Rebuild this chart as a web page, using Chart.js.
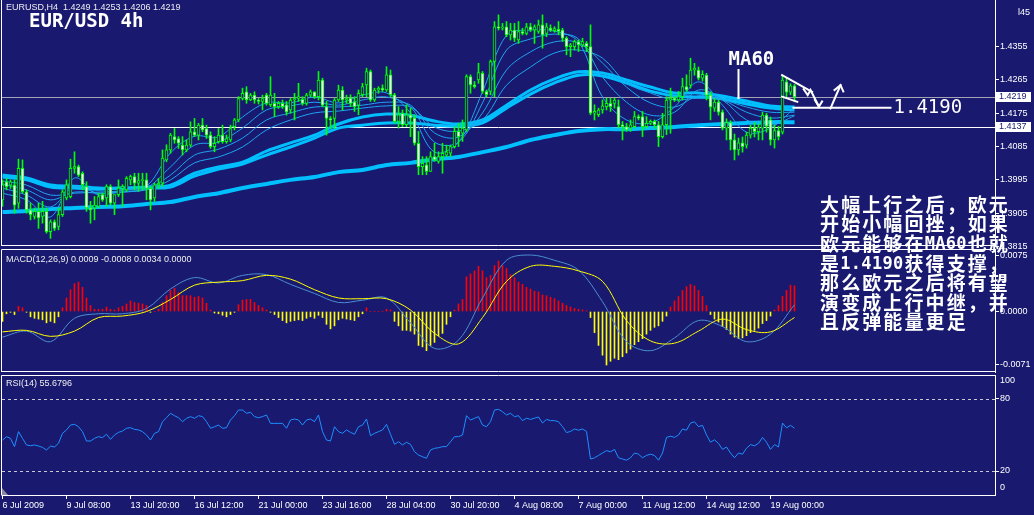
<!DOCTYPE html>
<html><head><meta charset="utf-8">
<title>EURUSD H4</title>
<script src="https://cdn.jsdelivr.net/npm/chart.js@4.4.1/dist/chart.umd.min.js"></script>
<style>
html,body{margin:0;padding:0;background:#191970;}
body{width:1034px;height:515px;position:relative;overflow:hidden;}
canvas{position:absolute;left:0;display:block;}
</style></head>
<body>
<canvas id="cMain" width="1034" height="249" style="top:0;width:1034px;height:249px"></canvas>
<canvas id="cMacd" width="1034" height="124" style="top:249px;width:1034px;height:124px"></canvas>
<canvas id="cRsi" width="1034" height="140" style="top:375px;width:1034px;height:140px"></canvas>
<canvas id="cNote" width="1034" height="515" style="top:0;width:1034px;height:515px;pointer-events:none"></canvas>
<script>
// ---------------- DATA ----------------
const openP = [
1.3941,1.3990,1.3981,1.3981,1.3932,1.4026,1.3963,1.3914,1.3896,1.3910,
1.3896,1.3910,1.3855,1.3882,1.3869,1.3901,1.3946,1.3950,1.4026,1.4031,
1.4013,1.3977,1.3919,1.3919,1.3923,1.3955,1.3946,1.3977,1.3932,1.3955,
1.3973,1.3968,1.3995,1.4004,1.3986,1.3993,1.3995,1.3972,1.3946,1.3982,
1.3986,1.4049,1.4076,1.4112,1.4107,1.4089,1.4076,1.4089,1.4125,1.4116,
1.4143,1.4134,1.4116,1.4085,1.4098,1.4116,1.4098,1.4103,1.4139,1.4157,
1.4215,1.4233,1.4211,1.4224,1.4211,1.4207,1.4224,1.4198,1.4202,1.4193,
1.4202,1.4198,1.4184,1.4211,1.4215,1.4213,1.4202,1.4224,1.4233,1.4220,
1.4265,1.4193,1.4161,1.4161,1.4211,1.4238,1.4211,1.4216,1.4206,1.4197,
1.4225,1.4252,1.4288,1.4211,1.4238,1.4243,1.4238,1.4279,1.4225,1.4153,
1.4175,1.4144,1.4171,1.4162,1.4094,1.4031,1.4036,1.4018,1.4058,1.4045,
1.4058,1.4062,1.4067,1.4085,1.4126,1.4121,1.4130,1.4274,1.4252,1.4265,
1.4283,1.4234,1.4234,1.4315,1.4409,1.4405,1.4409,1.4387,1.4400,1.4373,
1.4396,1.4391,1.4409,1.4400,1.4396,1.4414,1.4391,1.4405,1.4398,1.4402,
1.4400,1.4378,1.4355,1.4355,1.4369,1.4360,1.4364,1.4355,1.4175,1.4171,
1.4184,1.4193,1.4202,1.4202,1.4193,1.4144,1.4139,1.4135,1.4139,1.4166,
1.4166,1.4139,1.4148,1.4153,1.4144,1.4112,1.4144,1.4211,1.4216,1.4211,
1.4220,1.4247,1.4251,1.4292,1.4292,1.4270,1.4278,1.4224,1.4189,1.4205,
1.4178,1.4135,1.4150,1.4103,1.4076,1.4095,1.4089,1.4116,1.4135,1.4125,
1.4135,1.4170,1.4157,1.4103,1.4128,1.4124,1.4260,1.4232,1.4249];
const highP = [
1.3995,1.3999,1.3995,1.3995,1.4051,1.4049,1.3968,1.3932,1.3919,1.3932,
1.3937,1.3919,1.3887,1.3887,1.3919,1.3968,1.3995,1.4051,1.4071,1.4035,
1.4017,1.3990,1.3937,1.3950,1.3959,1.3959,1.3982,1.3982,1.3955,1.3995,
1.3982,1.4004,1.4008,1.4013,1.4013,1.4013,1.4013,1.3977,1.3986,1.3999,
1.4076,1.4090,1.4121,1.4134,1.4112,1.4112,1.4103,1.4152,1.4161,1.4148,
1.4161,1.4143,1.4125,1.4112,1.4134,1.4143,1.4116,1.4143,1.4161,1.4220,
1.4243,1.4247,1.4229,1.4233,1.4215,1.4224,1.4229,1.4274,1.4229,1.4207,
1.4211,1.4207,1.4215,1.4229,1.4256,1.4220,1.4229,1.4238,1.4233,1.4288,
1.4270,1.4207,1.4166,1.4215,1.4251,1.4247,1.4224,1.4225,1.4220,1.4238,
1.4256,1.4297,1.4292,1.4243,1.4247,1.4252,1.4301,1.4292,1.4229,1.4193,
1.4184,1.4198,1.4189,1.4171,1.4126,1.4058,1.4058,1.4071,1.4094,1.4071,
1.4094,1.4089,1.4089,1.4139,1.4148,1.4157,1.4279,1.4279,1.4261,1.4310,
1.4288,1.4238,1.4319,1.4423,1.4441,1.4418,1.4423,1.4418,1.4418,1.4423,
1.4405,1.4418,1.4418,1.4414,1.4427,1.4441,1.4418,1.4414,1.4409,1.4423,
1.4405,1.4382,1.4364,1.4373,1.4373,1.4378,1.4369,1.4414,1.4198,1.4189,
1.4211,1.4216,1.4216,1.4216,1.4211,1.4153,1.4148,1.4157,1.4180,1.4171,
1.4180,1.4166,1.4157,1.4157,1.4153,1.4175,1.4220,1.4243,1.4220,1.4234,
1.4270,1.4279,1.4324,1.4310,1.4300,1.4290,1.4283,1.4233,1.4215,1.4211,
1.4184,1.4160,1.4155,1.4119,1.4108,1.4111,1.4124,1.4143,1.4150,1.4146,
1.4178,1.4175,1.4165,1.4143,1.4140,1.4278,1.4270,1.4255,1.4253];
const lowP = [
1.3923,1.3968,1.3972,1.3905,1.3918,1.3959,1.3905,1.3887,1.3889,1.3864,
1.3878,1.3851,1.3837,1.3858,1.3860,1.3896,1.3941,1.3946,1.4013,1.4004,
1.3968,1.3910,1.3878,1.3887,1.3919,1.3937,1.3923,1.3927,1.3901,1.3950,
1.3923,1.3964,1.3982,1.3968,1.3964,1.3968,1.3941,1.3914,1.3937,1.3972,
1.3977,1.4044,1.4067,1.4094,1.4080,1.4062,1.4071,1.4085,1.4112,1.4103,
1.4125,1.4107,1.4080,1.4071,1.4094,1.4094,1.4094,1.4098,1.4130,1.4152,
1.4211,1.4202,1.4209,1.4202,1.4200,1.4184,1.4197,1.4193,1.4166,1.4188,
1.4188,1.4170,1.4175,1.4157,1.4207,1.4197,1.4197,1.4220,1.4215,1.4211,
1.4193,1.4116,1.4134,1.4134,1.4207,1.4184,1.4202,1.4193,1.4180,1.4171,
1.4220,1.4220,1.4207,1.4207,1.4229,1.4234,1.4234,1.4220,1.4148,1.4135,
1.4139,1.4139,1.4112,1.4089,1.4009,1.4009,1.4009,1.4018,1.4045,1.4040,
1.4013,1.4058,1.4058,1.4081,1.4085,1.4099,1.4126,1.4229,1.4243,1.4256,
1.4229,1.4220,1.4225,1.4220,1.4400,1.4400,1.4382,1.4373,1.4369,1.4364,
1.4387,1.4387,1.4396,1.4364,1.4391,1.4351,1.4382,1.4396,1.4394,1.4387,
1.4369,1.4333,1.4328,1.4346,1.4342,1.4355,1.4342,1.4171,1.4157,1.4166,
1.4175,1.4184,1.4180,1.4189,1.4135,1.4103,1.4126,1.4126,1.4135,1.4157,
1.4112,1.4135,1.4144,1.4135,1.4085,1.4108,1.4117,1.4121,1.4207,1.4207,
1.4211,1.4234,1.4243,1.4278,1.4265,1.4262,1.4211,1.4157,1.4180,1.4170,
1.4130,1.4103,1.4076,1.4049,1.4062,1.4070,1.4081,1.4108,1.4111,1.4103,
1.4103,1.4124,1.4089,1.4081,1.4103,1.4119,1.4220,1.4225,1.4206];
const closeP = [
1.3982,1.3977,1.3990,1.3927,1.4026,1.3963,1.3914,1.3901,1.3910,1.3892,
1.3910,1.3855,1.3882,1.3864,1.3901,1.3963,1.3982,1.4026,1.4031,1.4008,
1.3982,1.3919,1.3914,1.3927,1.3950,1.3941,1.3977,1.3932,1.3955,1.3973,
1.3977,1.3999,1.4004,1.3986,1.3993,1.3995,1.3972,1.3941,1.3982,1.3986,
1.4054,1.4076,1.4116,1.4103,1.4094,1.4076,1.4089,1.4125,1.4116,1.4143,
1.4130,1.4116,1.4085,1.4094,1.4116,1.4098,1.4107,1.4134,1.4157,1.4215,
1.4229,1.4211,1.4224,1.4211,1.4207,1.4215,1.4202,1.4224,1.4193,1.4202,
1.4193,1.4179,1.4211,1.4215,1.4220,1.4202,1.4224,1.4233,1.4220,1.4265,
1.4197,1.4161,1.4157,1.4211,1.4238,1.4211,1.4215,1.4202,1.4193,1.4229,
1.4247,1.4288,1.4211,1.4238,1.4243,1.4238,1.4279,1.4225,1.4153,1.4171,
1.4144,1.4171,1.4162,1.4094,1.4031,1.4040,1.4018,1.4058,1.4049,1.4058,
1.4067,1.4071,1.4085,1.4126,1.4112,1.4135,1.4274,1.4252,1.4247,1.4285,
1.4234,1.4225,1.4315,1.4409,1.4405,1.4409,1.4387,1.4400,1.4378,1.4396,
1.4391,1.4409,1.4400,1.4409,1.4414,1.4387,1.4409,1.4400,1.4404,1.4396,
1.4378,1.4355,1.4360,1.4369,1.4360,1.4369,1.4355,1.4175,1.4180,1.4184,
1.4195,1.4202,1.4193,1.4211,1.4144,1.4139,1.4130,1.4144,1.4166,1.4162,
1.4139,1.4148,1.4153,1.4144,1.4112,1.4144,1.4211,1.4216,1.4211,1.4220,
1.4247,1.4238,1.4292,1.4297,1.4270,1.4280,1.4224,1.4192,1.4205,1.4178,
1.4135,1.4150,1.4103,1.4076,1.4095,1.4085,1.4116,1.4135,1.4125,1.4138,
1.4170,1.4140,1.4103,1.4128,1.4112,1.4265,1.4232,1.4249,1.4219];

// moving averages, read every 6 bars
const maBars = [0,6,12,18,24,30,36,42,48,54,60,66,72,78,84,90,96,102,108,114,120,126,132,138,144,150,156,162,168,174,180,186,192,198];
const maFast1 = [1.3959,1.3941,1.3895,1.4000,1.3954,1.3968,1.3978,1.4068,1.4113,1.4111,1.4165,1.4203,1.4203,1.4219,1.4203,1.4224,1.4230,1.4176,1.4070,1.4097,1.4233,1.4386,1.4400,1.4397,1.4368,1.4219,1.4157,1.4149,1.4192,1.4260,1.4197,1.4124,1.4135,1.4189];
const maFast2 = [1.3973,1.3954,1.3922,1.3976,1.3959,1.3962,1.3973,1.4030,1.4089,1.4097,1.4135,1.4184,1.4195,1.4205,1.4197,1.4211,1.4219,1.4192,1.4097,1.4097,1.4203,1.4346,1.4376,1.4389,1.4376,1.4273,1.4205,1.4170,1.4178,1.4238,1.4211,1.4157,1.4143,1.4168];
const maFast3 = [1.3984,1.3968,1.3941,1.3962,1.3959,1.3962,1.3970,1.4008,1.4062,1.4078,1.4108,1.4157,1.4176,1.4192,1.4192,1.4197,1.4205,1.4197,1.4122,1.4111,1.4176,1.4292,1.4341,1.4368,1.4365,1.4311,1.4246,1.4203,1.4192,1.4222,1.4211,1.4178,1.4162,1.4170];
const maFast4 = [1.3992,1.3981,1.3954,1.3959,1.3962,1.3965,1.3968,1.3995,1.4041,1.4057,1.4084,1.4130,1.4157,1.4176,1.4181,1.4189,1.4195,1.4192,1.4138,1.4127,1.4157,1.4251,1.4300,1.4338,1.4346,1.4324,1.4257,1.4230,1.4211,1.4216,1.4211,1.4192,1.4178,1.4178];
const maLong1 = [1.4008,1.4000,1.3981,1.3978,1.3973,1.3973,1.3976,1.3981,1.4013,1.4030,1.4043,1.4073,1.4095,1.4116,1.4146,1.4165,1.4173,1.4170,1.4154,1.4146,1.4157,1.4197,1.4238,1.4268,1.4287,1.4284,1.4265,1.4246,1.4230,1.4230,1.4222,1.4208,1.4195,1.4192];
const maLong2 = [1.4003,1.3995,1.3976,1.3973,1.3970,1.3973,1.3973,1.3976,1.4005,1.4024,1.4038,1.4062,1.4084,1.4108,1.4135,1.4143,1.4149,1.4149,1.4143,1.4140,1.4149,1.4189,1.4227,1.4257,1.4278,1.4276,1.4257,1.4235,1.4222,1.4219,1.4214,1.4200,1.4189,1.4184];
const maSlow = [1.3908,1.3911,1.3916,1.3919,1.3922,1.3924,1.3930,1.3935,1.3949,1.3959,1.3973,1.3984,1.3995,1.4003,1.4016,1.4022,1.4035,1.4041,1.4051,1.4057,1.4070,1.4084,1.4103,1.4116,1.4127,1.4132,1.4132,1.4135,1.4138,1.4143,1.4146,1.4149,1.4151,1.4151];

// MACD
const macdHist = [
-0.0013,-0.0003,-0.0001,-0.0004,0.0007,0.0005,-0.0001,-0.0007,-0.0009,-0.0010,
-0.0011,-0.0015,-0.0013,-0.0015,-0.0007,0.0005,0.0018,0.0029,0.0037,0.0039,
0.0032,0.0018,0.0008,0.0003,0.0003,0.0003,0.0006,0.0003,0.0002,0.0005,
0.0007,0.0010,0.0014,0.0012,0.0011,0.0010,0.0008,-0.0001,0.0000,0.0003,
0.0012,0.0021,0.0028,0.0031,0.0025,0.0021,0.0021,0.0021,0.0019,0.0020,
0.0018,0.0011,0.0002,-0.0002,-0.0003,-0.0005,-0.0007,-0.0004,-0.0001,0.0009,
0.0015,0.0016,0.0016,0.0012,0.0008,0.0005,0.0002,-0.0001,-0.0004,-0.0008,
-0.0012,-0.0015,-0.0013,-0.0012,-0.0011,-0.0012,-0.0009,-0.0007,-0.0009,-0.0005,
-0.0008,-0.0017,-0.0023,-0.0019,-0.0011,-0.0009,-0.0010,-0.0011,-0.0012,-0.0007,
-0.0003,0.0005,0.0000,0.0000,0.0000,0.0000,0.0003,0.0002,-0.0013,-0.0019,
-0.0025,-0.0025,-0.0026,-0.0030,-0.0045,-0.0047,-0.0052,-0.0045,-0.0041,-0.0032,
-0.0029,-0.0017,-0.0007,0.0002,0.0010,0.0016,0.0046,0.0050,0.0054,0.0060,
0.0054,0.0045,0.0048,0.0061,0.0067,0.0061,0.0057,0.0049,0.0045,0.0039,
0.0036,0.0032,0.0030,0.0027,0.0026,0.0022,0.0021,0.0019,0.0017,0.0014,
0.0011,0.0008,0.0006,0.0004,0.0003,0.0002,0.0001,-0.0008,-0.0028,-0.0045,
-0.0058,-0.0071,-0.0066,-0.0062,-0.0064,-0.0060,-0.0055,-0.0050,-0.0044,-0.0040,
-0.0036,-0.0030,-0.0025,-0.0021,-0.0019,-0.0013,-0.0006,0.0006,0.0014,0.0020,
0.0028,0.0033,0.0036,0.0034,0.0028,0.0020,0.0008,-0.0004,-0.0010,-0.0014,
-0.0020,-0.0024,-0.0030,-0.0034,-0.0036,-0.0035,-0.0032,-0.0028,-0.0025,-0.0022,
-0.0016,-0.0012,-0.0006,0.0002,0.0008,0.0020,0.0028,0.0035,0.0034];
const macdMain = [-0.0034,-0.0026,-0.0040,-0.0009,-0.0003,-0.0003,0.0004,0.0030,0.0045,0.0038,0.0048,0.0049,0.0036,0.0024,0.0012,0.0015,0.0018,-0.0015,-0.0049,-0.0038,0.0018,0.0068,0.0075,0.0068,0.0055,0.0013,-0.0040,-0.0052,-0.0035,-0.0012,-0.0020,-0.0040,-0.0030,0.0009];
const macdSignal = [-0.0027,-0.0025,-0.0033,-0.0026,-0.0008,-0.0006,0.0000,0.0016,0.0035,0.0039,0.0041,0.0048,0.0043,0.0029,0.0018,0.0017,0.0017,0.0002,-0.0029,-0.0043,-0.0008,0.0040,0.0060,0.0060,0.0054,0.0040,-0.0012,-0.0039,-0.0042,-0.0026,-0.0010,-0.0024,-0.0027,-0.0008];

// RSI(14)
const rsi = [
45.8,48.6,47.2,40.3,52.8,47.2,41.7,41.1,41.7,40.8,
39.7,37.5,40.8,40.0,43.1,51.4,54.2,58.3,58.9,56.9,
52.8,45.0,45.0,47.2,48.6,47.8,50.6,46.4,50.0,52.2,
53.3,55.6,56.1,54.7,54.2,52.8,50.0,45.8,51.4,52.8,
61.1,64.4,68.1,66.1,64.4,61.1,63.9,65.3,63.9,66.1,
65.3,61.1,55.6,56.9,58.3,55.6,56.1,62.5,66.1,70.8,
70.8,68.1,68.9,65.3,64.4,65.3,66.7,59.7,59.7,59.7,
59.7,55.6,62.5,63.3,62.5,58.3,62.5,63.3,61.1,66.7,
52.8,45.8,45.0,56.9,52.8,51.4,54.2,52.2,50.6,56.9,
58.3,63.3,49.4,51.4,52.8,54.2,58.9,50.6,42.2,44.4,
41.7,43.9,42.2,36.1,33.3,31.9,30.6,37.5,38.9,39.4,
40.3,40.3,44.4,48.6,48.6,50.0,66.1,62.5,63.9,65.3,
58.3,56.9,61.1,70.8,71.4,69.4,66.7,68.1,65.3,66.1,
62.0,64.0,63.0,64.0,65.0,60.0,63.0,62.0,62.0,61.0,
57.0,52.0,53.0,55.0,54.0,55.0,53.0,30.0,31.0,33.0,
35.0,37.0,36.0,38.0,31.0,30.0,29.0,31.0,35.0,34.0,
31.0,33.0,34.0,33.0,29.0,35.0,48.0,49.0,48.0,50.0,
55.0,54.0,60.0,61.0,57.0,58.0,50.0,44.0,46.0,43.0,
38.0,40.0,35.0,31.0,35.0,34.0,39.0,42.0,41.0,43.0,
48.0,44.0,38.0,42.0,40.0,60.0,56.0,58.0,55.6796];
const rsiLevels = [80, 20];

// axis ticks and labels
const priceTicks = [1.4355, 1.4265, 1.4175, 1.4085, 1.3995, 1.3905, 1.3815];
const markedPrices = [1.4219, 1.4137];
const macdTicks = [0.0075, 0.0000, -0.0071];
const dateTickBars = [0,16,32,48,64,80,96,112,128,144,160,176,192];
const dateLabels = ['6 Jul 2009','9 Jul 08:00','13 Jul 20:00','16 Jul 12:00','21 Jul 00:00','23 Jul 16:00','28 Jul 04:00','30 Jul 20:00','4 Aug 08:00','7 Aug 00:00','11 Aug 12:00','14 Aug 12:00','19 Aug 00:00'];

// hand-drawn annotations (bar index, price)
const supportLevel = 1.4190;
const annoPaths = [
  [[197.75,1.4190],[222.0,1.4190]],
  [[184,1.4292],[184,1.4216]],
  [[194.9,1.4278],[202.4,1.4233]],
  [[194.9,1.4220],[198.7,1.4206]],
  [[200.3,1.4240],[201.3,1.4224],[202.0,1.4238],[204.1,1.4193]],
  [[203.1,1.4211],[204.1,1.4193],[204.9,1.4207]],
  [[207.0,1.4188],[209.5,1.4251]],
  [[208.0,1.4238],[209.5,1.4251],[210.2,1.4234]]
];
const noteLines = ['大幅上行之后，欧元','开始小幅回挫，如果','欧元能够在MA60也就','是1.4190获得支撑，','那么欧元之后将有望','演变成上行中继，并','且反弹能量更足'];

// ---------------- RENDERING ----------------
Chart.defaults.font.family = '"Liberation Sans", Arial, sans-serif';
Chart.defaults.font.size = 9;
Chart.defaults.color = '#ffffff';
const NAVY = '#191970', WHITE = '#ffffff', GREEN = '#00ff00';
const N = closeP.length;
const X_MIN = -0.125, X_MAX = 248.125;
const P_MAX = 1.44812, P_MIN = 1.381634;
const M_MAX = 0.0083, M_MIN = -0.00803;
const fmt4 = v => Number(v).toFixed(4);
const noPad = s => { s.paddingTop = 0; s.paddingBottom = 0; s.paddingLeft = 0; s.paddingRight = 0; };

function hiddenX() { return { type:'linear', display:false, min:X_MIN, max:X_MAX, offset:false }; }
function rightY(min, max, ticks, fmt) {
  return {
    position:'right', min, max,
    afterBuildTicks: s => { s.ticks = ticks.map(v => ({ value: v })); },
    afterFit: s => { s.width = 39; noPad(s); },
    ticks: { color: WHITE, padding: 1, autoSkip:false, callback: fmt },
    grid: { drawOnChartArea:false, color: WHITE, tickLength: 4, tickWidth: 1 },
    border: { color: WHITE, width: 1 }
  };
}
function frameLines(ctx, a, top, bottom) {
  ctx.save(); ctx.strokeStyle = WHITE; ctx.lineWidth = 1; ctx.beginPath();
  ctx.moveTo(1.5, top ? a.top + 0.5 : a.top); ctx.lineTo(1.5, a.bottom);
  if (top) { ctx.moveTo(1.5, a.top + 0.5); ctx.lineTo(a.right, a.top + 0.5); }
  if (bottom) { ctx.moveTo(1.5, a.bottom - 0.5); ctx.lineTo(a.right + 1, a.bottom - 0.5); }
  ctx.stroke(); ctx.restore();
}
const common = { responsive:false, animation:false, devicePixelRatio:1, events:[] };

// ---- main price pane ----
const mainDeco = {
  id:'mainDeco',
  beforeDatasetsDraw(c) {
    const { ctx, chartArea:a, scales:{ y } } = c;
    ctx.save(); ctx.lineWidth = 1;
    [[markedPrices[0], '#a4a4b4'], [markedPrices[1], WHITE]].forEach(([p, col]) => {
      const py = Math.round(y.getPixelForValue(p)) + 0.5;
      ctx.strokeStyle = col; ctx.beginPath(); ctx.moveTo(a.left, py); ctx.lineTo(a.right, py); ctx.stroke();
    });
    ctx.restore();
  },
  afterDatasetsDraw(c) {
    const { ctx, scales:{ x, y } } = c;
    ctx.save();
    ctx.strokeStyle = WHITE; ctx.lineWidth = 2; ctx.lineCap = 'square';
    annoPaths.forEach(path => {
      ctx.beginPath();
      path.forEach(([b, p], i) => { const px = x.getPixelForValue(b), py = y.getPixelForValue(p); i ? ctx.lineTo(px, py) : ctx.moveTo(px, py); });
      ctx.stroke();
    });
    ctx.fillStyle = WHITE; ctx.textBaseline = 'middle'; ctx.textAlign = 'left';
    ctx.font = 'bold 19px "DejaVu Sans Mono", monospace';
    ctx.fillText('MA60', x.getPixelForValue(181.5), y.getPixelForValue(1.4320));
    ctx.font = '19px "DejaVu Sans Mono", monospace';
    ctx.fillText(supportLevel.toFixed(4), x.getPixelForValue(222.75), y.getPixelForValue(supportLevel) + 0.5);
    ctx.restore();
  },
  afterDraw(c) {
    const { ctx, chartArea:a, scales:{ y } } = c;
    frameLines(ctx, a, false, true);
    ctx.save();
    ctx.font = '9px "Liberation Sans", Arial, sans-serif'; ctx.textBaseline = 'middle'; ctx.textAlign = 'left';
    markedPrices.forEach(p => {
      const py = Math.round(y.getPixelForValue(p));
      ctx.fillStyle = WHITE; ctx.fillRect(996, py - 5, 35, 10);
      ctx.fillStyle = NAVY; ctx.fillText(fmt4(p), 999, py);
    });
    ctx.fillStyle = WHITE;
    ctx.fillText('l45', 1018, 13);
    ctx.fillStyle = '#eeeeee';
    ctx.fillText(`EURUSD,H4  ${fmt4(openP[N-1])} ${fmt4(highP[N-1])} ${fmt4(lowP[N-1])} ${fmt4(closeP[N-1])}`, 6, 8);
    ctx.fillStyle = WHITE; ctx.font = 'bold 19px "DejaVu Sans Mono", monospace';
    ctx.fillText('EUR/USD 4h', 29, 22);
    ctx.restore();
  }
};
const bodyData = openP.map((o, i) => ({ x: i, y: [o, closeP[i]] }));
const wickData = lowP.map((l, i) => ({ x: i, y: [l, highP[i]] }));
const bodyColors = openP.map((o, i) => closeP[i] >= o ? NAVY : WHITE);
const maDefs = [
  [maFast1, '#1ea6f0', 1], [maFast2, '#1ea6f0', 1], [maFast3, '#1ea6f0', 1], [maFast4, '#1ea6f0', 1],
  [maLong1, '#00bfff', 3], [maLong2, '#00bfff', 3], [maSlow, '#00bfff', 4]
];
new Chart(document.getElementById('cMain'), {
  type:'bar',
  data:{ datasets:[
    { type:'bar', data: bodyData, order:0, grouped:false, barThickness:3, minBarLength:1, backgroundColor: bodyColors, borderColor: GREEN, borderWidth:1, borderSkipped:false },
    { type:'bar', data: wickData, order:1, grouped:false, barThickness:1, backgroundColor: GREEN, borderWidth:0 },
    ...maDefs.map(([vals, col, w], k) => ({ type:'line', data: maBars.map((b, i) => ({ x: b, y: vals[i] })), borderColor: col, borderWidth: w, pointRadius:0, tension:0.35, fill:false, order: 2 + k }))
  ]},
  options:{ ...common,
    layout:{ padding:{ left:2, right:0, top:0, bottom:3 }, autoPadding:false },
    plugins:{ legend:{ display:false }, tooltip:{ enabled:false } },
    scales:{ x: hiddenX(), y: rightY(P_MIN, P_MAX, priceTicks, v => fmt4(v)) }
  },
  plugins:[mainDeco]
});

// ---- MACD pane ----
const macdDeco = {
  id:'macdDeco',
  afterDraw(c) {
    const { ctx, chartArea:a } = c;
    frameLines(ctx, a, true, true);
    ctx.save(); ctx.fillStyle = '#eeeeee'; ctx.font = '9px "Liberation Sans", Arial, sans-serif'; ctx.textBaseline = 'middle';
    const last = macdHist[N-1];
    ctx.fillText(`MACD(12,26,9) ${fmt4(macdMain[macdMain.length-1])} ${fmt4(macdSignal[macdSignal.length-1])} ${fmt4(Math.max(last,0))} ${fmt4(last < 0 ? last : 0)}`, 6, 11);
    ctx.restore();
  }
};
new Chart(document.getElementById('cMacd'), {
  type:'bar',
  data:{ datasets:[
    { type:'line', data: maBars.map((b, i) => ({ x: b, y: macdSignal[i] })), borderColor:'#ffff00', borderWidth:1, pointRadius:0, tension:0.35, order:0 },
    { type:'line', data: maBars.map((b, i) => ({ x: b, y: macdMain[i] })), borderColor:'#4a8fd0', borderWidth:1, pointRadius:0, tension:0.35, order:1 },
    { type:'bar', data: macdHist.map((v, i) => ({ x: i, y: v })), order:2, grouped:false, barThickness:1, borderWidth:0,
      backgroundColor: macdHist.map(v => v >= 0 ? '#ff0000' : '#ffff00') }
  ]},
  options:{ ...common,
    layout:{ padding:{ left:2, right:0, top:0, bottom:1 }, autoPadding:false },
    plugins:{ legend:{ display:false }, tooltip:{ enabled:false } },
    scales:{ x: hiddenX(), y: rightY(M_MIN, M_MAX, macdTicks, v => fmt4(v)) }
  },
  plugins:[macdDeco]
});

// ---- RSI pane ----
const rsiDeco = {
  id:'rsiDeco',
  beforeDatasetsDraw(c) {
    const { ctx, chartArea:a, scales:{ y } } = c;
    ctx.save(); ctx.strokeStyle = '#c8c8d0'; ctx.lineWidth = 1; ctx.setLineDash([3, 3]);
    rsiLevels.forEach(l => { const py = Math.round(y.getPixelForValue(l)) + 0.5; ctx.beginPath(); ctx.moveTo(a.left, py); ctx.lineTo(a.right, py); ctx.stroke(); });
    ctx.restore();
  },
  afterDraw(c) {
    const { ctx, chartArea:a, scales:{ y } } = c;
    frameLines(ctx, a, true, false);
    ctx.save(); ctx.strokeStyle = WHITE; ctx.beginPath(); ctx.moveTo(1.5, a.bottom + 0.5); ctx.lineTo(a.right + 1, a.bottom + 0.5); ctx.stroke();
    ctx.fillStyle = '#eeeeee'; ctx.font = '9px "Liberation Sans", Arial, sans-serif'; ctx.textBaseline = 'middle';
    ctx.fillText(`RSI(14) ${rsi[N-1].toFixed(4)}`, 6, 9);
    ctx.fillStyle = WHITE;
    ctx.fillText('100', 1000, y.getPixelForValue(100) + 6);
    ctx.fillText('0', 1000, y.getPixelForValue(0) - 7);
    ctx.fillStyle = '#8a8aa0'; ctx.beginPath(); ctx.moveTo(2, a.bottom - 7); ctx.lineTo(2, a.bottom); ctx.lineTo(8, a.bottom); ctx.closePath(); ctx.fill();
    ctx.restore();
  }
};
new Chart(document.getElementById('cRsi'), {
  type:'line',
  data:{ datasets:[
    { data: rsi.map((v, i) => ({ x: i, y: v })), borderColor:'#1e90ff', borderWidth:1, pointRadius:0, tension:0 }
  ]},
  options:{ ...common,
    layout:{ padding:{ left:2, right:0, top:0, bottom:0 }, autoPadding:false },
    plugins:{ legend:{ display:false }, tooltip:{ enabled:false } },
    scales:{
      x:{ type:'linear', min:X_MIN, max:X_MAX, offset:false,
        afterBuildTicks: s => { s.ticks = dateTickBars.map(v => ({ value: v })); },
        afterFit: s => { s.height = 20; noPad(s); },
        ticks:{ color: WHITE, align:'start', maxRotation:0, autoSkip:false, padding:1, callback:(v, i) => dateLabels[i] },
        grid:{ drawOnChartArea:false, color: WHITE, tickLength:4, offset:false },
        border:{ display:false }
      },
      y: rightY(0, 100, rsiLevels, v => String(v))
    }
  },
  plugins:[rsiDeco]
});

// ---- overlaid Chinese commentary ----
(function drawNote() {
  const ctx = document.getElementById('cNote').getContext('2d');
  ctx.fillStyle = WHITE; ctx.textBaseline = 'middle'; ctx.textAlign = 'center';
  noteLines.forEach((line, i) => {
    let x = 819; const yy = 204.5 + i * 19.6;
    for (const ch of line) {
      const full = ch.charCodeAt(0) > 255;
      const w = full ? 21.1 : 10.55;
      ctx.font = full ? 'bold 19px "Noto Sans CJK SC", sans-serif' : 'bold 17px "DejaVu Sans Mono", monospace';
      ctx.fillText(ch, x + w / 2, yy + (full ? 0 : 1));
      x += w;
    }
  });
})();
</script>
</body></html>
